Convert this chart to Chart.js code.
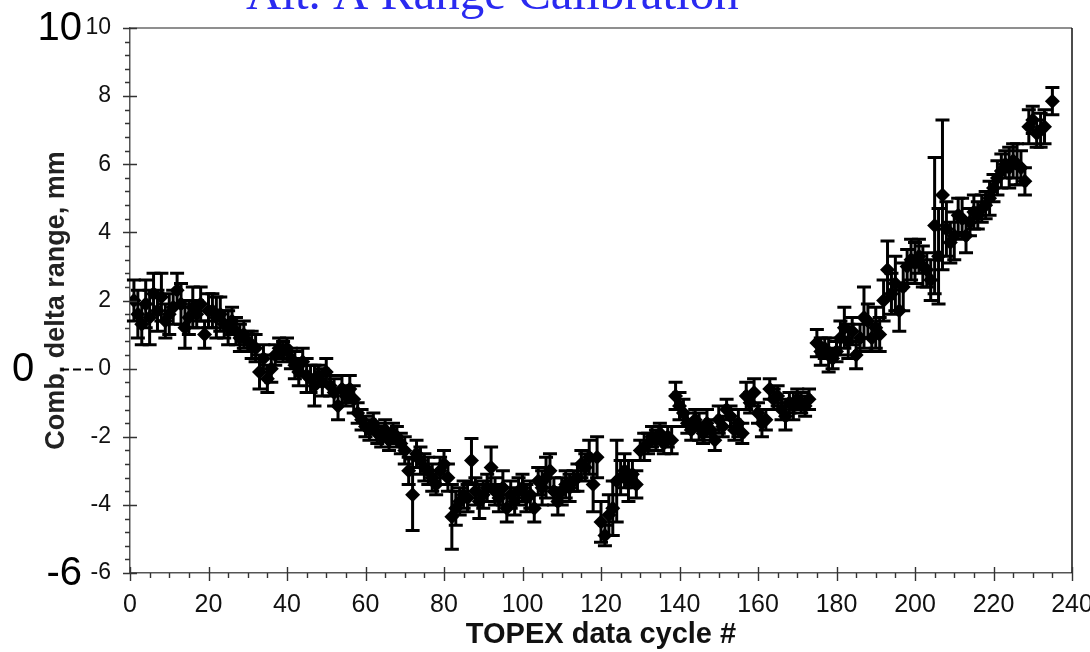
<!DOCTYPE html>
<html>
<head>
<meta charset="utf-8">
<title>Alt. A Range Calibration</title>
<script src="https://cdn.jsdelivr.net/npm/chart.js@4.4.1/dist/chart.umd.min.js"></script>
<style>
  html, body { margin: 0; padding: 0; background: #fff; }
  #wrap { position: relative; width: 1090px; height: 652px; }
</style>
</head>
<body>
<div id="wrap"><canvas id="calChart"></canvas></div>
<script>
// TOPEX cycle numbers
const cycles = [
  1, 2, 3, 4, 5, 6, 7, 8, 9, 10,
  11, 12, 13, 14, 15, 16, 17, 18, 19, 20,
  21, 22, 23, 24, 25, 26, 27, 28, 29, 30,
  31, 32, 33, 34, 35, 36, 37, 38, 39, 40,
  41, 42, 43, 44, 45, 46, 47, 48, 49, 50,
  51, 52, 53, 54, 55, 56, 57, 58, 59, 60,
  61, 62, 63, 64, 65, 66, 67, 68, 69, 70,
  71, 72, 73, 74, 75, 76, 77, 78, 79, 80,
  81, 82, 83, 84, 85, 86, 87, 88, 89, 90,
  91, 92, 93, 94, 95, 96, 97, 98, 99, 100,
  101, 102, 103, 104, 105, 106, 107, 108, 109, 110,
  111, 112, 113, 114, 115, 116, 117, 118, 119, 120,
  121, 122, 123, 124, 125, 126, 127, 128, 129, 130,
  131, 132, 133, 134, 135, 136, 137, 138, 139, 140,
  141, 142, 143, 144, 145, 146, 147, 148, 149, 150,
  151, 152, 153, 154, 155, 156, 157, 158, 159, 160,
  161, 162, 163, 164, 165, 166, 167, 168, 169, 170,
  171, 172, 173,
  175, 176, 177, 178, 179, 180, 181, 182, 183, 184,
  185, 186, 187, 188, 189, 190, 191, 192, 193, 194,
  195, 196, 197, 198, 199, 200, 201, 202, 203, 204,
  205, 206, 207, 208, 209, 210, 211, 212, 213, 214,
  215, 216, 217, 218, 219, 220, 221, 222, 223, 224,
  225, 226, 227, 228, 229, 230, 231, 232, 233,
  235
];

// combined delta range per cycle, mm
const rangeMm = [
  2.0, 1.6, 1.3, 1.9, 1.5, 2.2, 1.7, 2.1, 1.4, 1.6,
  1.8, 2.3, 1.9, 1.2, 1.5, 1.8, 1.6, 1.9, 1.0, 1.7,
  1.7, 1.5, 1.6, 1.3, 1.2, 1.4, 1.1, 0.9, 1.0, 0.8,
  0.7, 0.6, -0.1, 0.3, -0.3, 0.0, 0.4, 0.6, 0.5, 0.6,
  0.3, 0.1, -0.1, 0.2, -0.2, -0.3, -0.5, -0.2, -0.4, -0.1,
  -0.5, -0.7, -1.1, -0.6, -0.8, -0.6, -0.9, -1.3, -1.5, -1.7,
  -1.8, -1.6, -1.9, -2.0, -1.8, -2.1, -1.9, -2.0, -2.2, -2.4,
  -3.0, -3.7, -2.5, -2.7, -2.9, -3.0, -3.2, -3.4, -3.0, -2.8,
  -3.2, -4.35, -4.1, -3.9, -3.7, -3.8, -2.7, -3.6, -3.9, -3.7,
  -3.5, -2.9, -3.6, -3.8, -3.5, -4.1, -3.7, -3.9, -3.6, -3.5,
  -3.8, -3.7, -4.1, -3.3, -3.5, -3.2, -3.0, -3.6, -3.9, -3.6,
  -3.4, -3.5, -3.3, -3.2, -2.8, -2.9, -2.6, -3.4, -2.6, -4.5,
  -4.9, -4.3, -4.1, -3.3, -3.2, -3.0, -3.3, -3.1, -3.4, -2.4,
  -2.3, -2.2, -2.0, -2.1, -1.9, -2.2, -2.0, -2.1, -0.8, -1.1,
  -1.3, -1.6, -1.8, -1.5, -1.7, -1.9, -1.6, -1.8, -2.1, -1.5,
  -1.7, -1.2, -1.4, -1.8, -1.6, -1.9, -0.8, -1.0, -0.7, -1.3,
  -1.6, -1.5, -0.6, -0.9, -0.8, -1.2, -1.4, -1.0, -1.1, -0.9,
  -1.0, -1.1, -0.9,
  0.75, 0.5, 0.6, 0.4, 0.3, 0.5, 0.9, 1.2, 0.8, 1.1,
  0.4, 0.9, 1.5, 1.4, 0.9, 1.2, 1.0, 2.0, 2.9, 2.2,
  2.5, 1.7, 2.4, 3.0, 3.2, 3.1, 3.3, 3.0, 2.9, 2.6,
  4.2, 3.3, 5.1, 4.1, 3.7, 3.9, 4.5, 4.4, 3.9, 4.3,
  4.6, 4.5, 4.7, 4.8, 5.0, 5.3, 5.6, 5.8, 6.0, 5.9,
  6.1, 6.0, 5.9, 5.5, 7.1, 7.3, 6.9, 7.0, 7.1,
  7.85
];

// one-sigma error per cycle, mm
const errMm = [
  0.6, 0.7, 0.6, 0.7, 0.8, 0.6, 0.6, 0.7, 0.5, 0.6,
  0.5, 0.5, 0.6, 0.6, 0.5, 0.6, 0.4, 0.5, 0.4, 0.5,
  0.5, 0.6, 0.5, 0.4, 0.5, 0.4, 0.4, 0.4, 0.4, 0.3,
  0.4, 0.4, 0.5, 0.4, 0.4, 0.4, 0.3, 0.3, 0.3, 0.3,
  0.3, 0.4, 0.4, 0.4, 0.5, 0.4, 0.6, 0.3, 0.4, 0.4,
  0.3, 0.4, 0.4, 0.4, 0.3, 0.4, 0.4, 0.3, 0.3, 0.3,
  0.3, 0.3, 0.3, 0.3, 0.3, 0.3, 0.3, 0.3, 0.3, 0.4,
  0.4, 1.05, 0.4, 0.4, 0.4, 0.4, 0.4, 0.3, 0.4, 0.4,
  0.4, 0.95, 0.5, 0.4, 0.4, 0.4, 0.65, 0.4, 0.5, 0.4,
  0.4, 0.6, 0.4, 0.4, 0.5, 0.4, 0.4, 0.4, 0.4, 0.4,
  0.4, 0.4, 0.4, 0.4, 0.5, 0.6, 0.5, 0.4, 0.4, 0.4,
  0.4, 0.4, 0.3, 0.4, 0.4, 0.4, 0.5, 0.8, 0.6, 0.6,
  0.3, 0.6, 0.8, 1.2, 0.5, 0.5, 0.6, 0.4, 0.4, 0.3,
  0.4, 0.3, 0.3, 0.3, 0.3, 0.3, 0.3, 0.4, 0.4, 0.4,
  0.4, 0.3, 0.3, 0.3, 0.4, 0.3, 0.4, 0.3, 0.3, 0.4,
  0.3, 0.3, 0.3, 0.3, 0.4, 0.3, 0.4, 0.3, 0.4, 0.3,
  0.4, 0.3, 0.3, 0.3, 0.3, 0.3, 0.4, 0.3, 0.4, 0.3,
  0.3, 0.3, 0.3,
  0.4, 0.4, 0.3, 0.5, 0.3, 0.3, 0.5, 0.6, 0.5, 0.4,
  0.4, 0.4, 0.9, 0.5, 0.4, 0.6, 0.5, 0.6, 0.85, 0.6,
  0.8, 0.6, 0.7, 0.5, 0.6, 0.6, 0.5, 0.6, 0.5, 0.6,
  2.0, 1.4, 2.2, 0.8, 0.6, 0.7, 0.5, 0.6, 0.5, 0.4,
  0.5, 0.4, 0.4, 0.4, 0.5, 0.4, 0.5, 0.5, 0.4, 0.6,
  0.5, 0.6, 0.5, 0.4, 0.5, 0.4, 0.4, 0.5, 0.5,
  0.4
];

// big side labels next to the y axis
const sideLabels = ["10", "0", "-6"];
const sideValues = [10, 0, -6];

const SANS = "'Liberation Sans', Arial, sans-serif";
const SERIF = "'Liberation Serif', 'Times New Roman', serif";

const points = cycles.map((c, i) => ({ x: c, y: rangeMm[i] }));

// vertical error bars with caps, drawn under the markers
const errorBars = {
  id: "errorBars",
  beforeDatasetsDraw(chart) {
    const { ctx, scales: { x, y } } = chart;
    const cap = 7;
    ctx.save();
    ctx.strokeStyle = "#000";
    ctx.lineWidth = 3;
    cycles.forEach((c, i) => {
      const px = x.getPixelForValue(c);
      const hi = y.getPixelForValue(rangeMm[i] + errMm[i]);
      const lo = y.getPixelForValue(rangeMm[i] - errMm[i]);
      ctx.beginPath();
      ctx.moveTo(px, hi); ctx.lineTo(px, lo);
      ctx.moveTo(px - cap, hi); ctx.lineTo(px + cap, hi);
      ctx.moveTo(px - cap, lo); ctx.lineTo(px + cap, lo);
      ctx.stroke();
    });
    ctx.restore();
  }
};

// frame, major/minor tick marks, side labels and the heading
const decorations = {
  id: "decorations",
  afterDraw(chart) {
    const { ctx, chartArea: a, scales: { x, y } } = chart;
    ctx.save();

    // top and right frame
    ctx.lineWidth = 1.5;
    ctx.strokeStyle = "#6a6a6a";
    ctx.beginPath();
    ctx.moveTo(a.left, a.top); ctx.lineTo(a.right, a.top);
    ctx.stroke();
    ctx.strokeStyle = "#111";
    ctx.beginPath();
    ctx.moveTo(a.right, a.top); ctx.lineTo(a.right, a.bottom);
    ctx.stroke();

    // y ticks
    ctx.strokeStyle = "#333";
    ctx.lineWidth = 1.4;
    ctx.beginPath();
    for (let v = -6; v <= 10.001; v += 0.4) {
      const py = Math.round(y.getPixelForValue(v)) + 0.5;
      const major = Math.abs(v / 2 - Math.round(v / 2)) < 1e-6;
      ctx.moveTo(a.left - (major ? 7 : 5), py);
      ctx.lineTo(a.left + (major ? 7 : 0), py);
    }
    // x ticks
    for (let v = 0; v <= 240; v += 5) {
      const px = Math.round(x.getPixelForValue(v)) + 0.5;
      const major = v % 20 === 0;
      ctx.moveTo(px, a.bottom - (major ? 6 : 0));
      ctx.lineTo(px, a.bottom + (major ? 8 : 5));
    }
    ctx.stroke();

    // large labels beside the axis
    ctx.fillStyle = "#000";
    ctx.font = "40px " + SANS;
    ctx.textBaseline = "middle";
    sideLabels.forEach((t, i) => {
      const py = y.getPixelForValue(sideValues[i]) + 1;
      if (sideValues[i] === 0) {
        ctx.textAlign = "left";
        ctx.fillText(t, 12, py);
      } else {
        ctx.textAlign = "right";
        ctx.fillText(t, 82, py);
      }
    });

    // dashed lead from the zero label
    const zy = Math.round(y.getPixelForValue(0)) + 0.5;
    ctx.setLineDash([8, 4]);
    ctx.lineWidth = 2.2;
    ctx.strokeStyle = "#000";
    ctx.beginPath();
    ctx.moveTo(61, zy); ctx.lineTo(96, zy);
    ctx.stroke();
    ctx.setLineDash([]);

    // heading, partly above the page edge
    ctx.fillStyle = "#2a2af0";
    ctx.font = "49px " + SERIF;
    ctx.textAlign = "left";
    ctx.textBaseline = "alphabetic";
    ctx.fillText("Alt. A Range Calibration", 246, 9);

    ctx.restore();
  }
};

new Chart(document.getElementById("calChart"), {
  type: "scatter",
  data: {
    datasets: [{
      label: "Comb. delta range",
      data: points,
      pointStyle: "rectRot",
      pointRadius: 7.5,
      pointHoverRadius: 7.5,
      backgroundColor: "#000",
      borderColor: "#000",
      borderWidth: 0
    }]
  },
  options: {
    responsive: true,
    maintainAspectRatio: false,
    animation: false,
    events: [],
    layout: { padding: { top: 28, right: 18, left: 0, bottom: 0 } },
    plugins: {
      legend: { display: false },
      tooltip: { enabled: false }
    },
    scales: {
      x: {
        type: "linear",
        min: 0,
        max: 240,
        grid: { display: false, drawTicks: false },
        border: { display: true, color: "#555", width: 1.5 },
        ticks: {
          stepSize: 20,
          padding: 17,
          color: "#111",
          font: { family: SANS, size: 25 },
          maxRotation: 0
        },
        title: {
          display: true,
          text: "TOPEX data cycle #",
          color: "#111",
          font: { family: SANS, size: 29, weight: "bold" },
          padding: { top: 0, bottom: 0 }
        },
        afterFit(scale) {
          scale.height = 79;
          scale.paddingLeft = 0;
          scale.paddingRight = 0;
        }
      },
      y: {
        type: "linear",
        min: -6,
        max: 10,
        grid: { display: false, drawTicks: false },
        border: { display: true, color: "#555", width: 1.5 },
        ticks: {
          stepSize: 2,
          padding: 19,
          color: "#111",
          font: { family: SANS, size: 23 }
        },
        title: {
          display: true,
          text: "Comb. delta range, mm",
          color: "#222",
          font: { family: SANS, size: 27, weight: "bold" },
          padding: { top: 40, bottom: 0 }
        },
        afterFit(scale) {
          scale.width = 130;
          scale.paddingTop = 0;
          scale.paddingBottom = 0;
        }
      }
    }
  },
  plugins: [errorBars, decorations]
});
</script>
</body>
</html>
